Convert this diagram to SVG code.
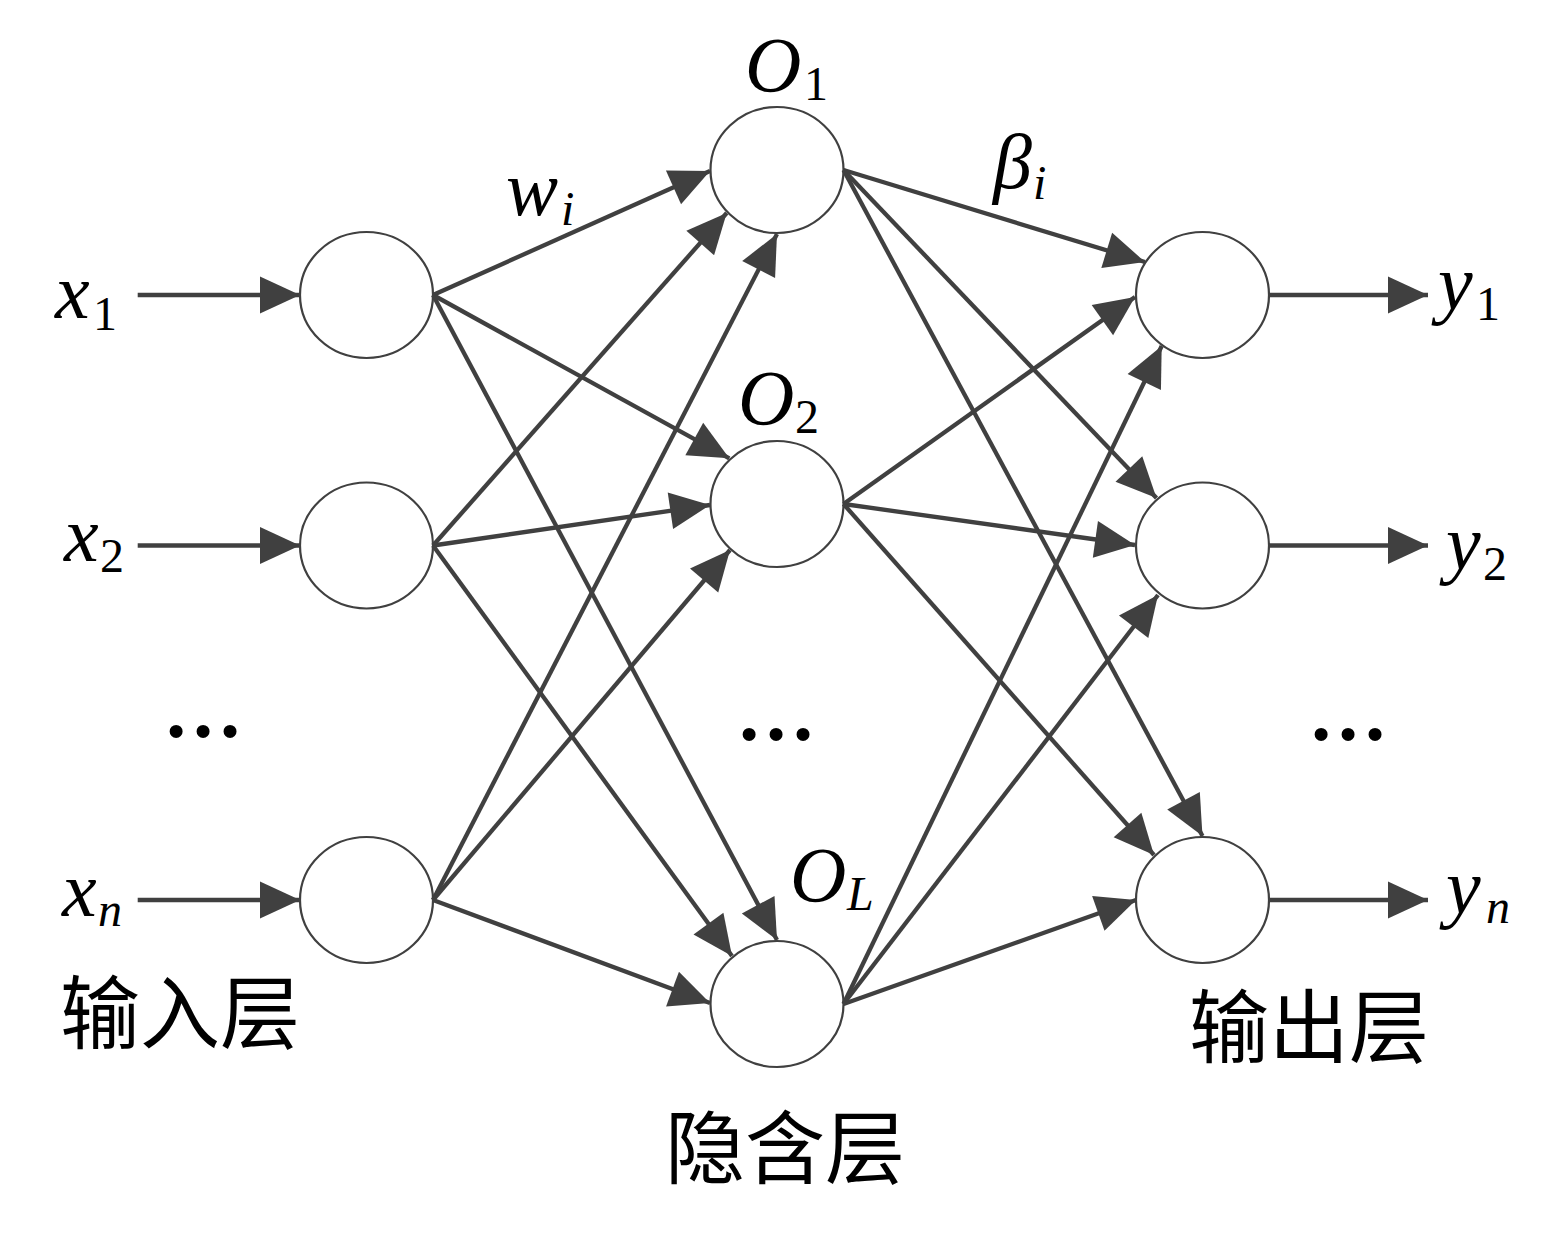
<svg xmlns="http://www.w3.org/2000/svg" width="1550" height="1235" viewBox="0 0 1550 1235">
<style>
.node{fill:#fff;stroke:#404040;stroke-width:2.2}
.edge{stroke:#404040;stroke-width:4.3;fill:none;marker-end:url(#ah)}
.m{font-family:'Liberation Serif','Times New Roman',Tinos,'DejaVu Serif',serif;font-style:italic;fill:#000;font-size:78px}
.s{font-style:normal;font-size:48px}
.si{font-style:italic;font-size:48px}
.zh{font-family:'Noto Sans CJK SC',sans-serif;font-size:80px;fill:#000}
.dots{font-family:'Liberation Serif','Times New Roman',serif;font-weight:bold;font-size:80px;fill:#000;text-anchor:middle}
</style>
<defs>
<marker id="ah" markerUnits="userSpaceOnUse" markerWidth="40" markerHeight="37" refX="40" refY="18.5" orient="auto" overflow="visible">
<path d="M0,0 L40,18.5 L0,37 Z" fill="#404040"/>
</marker>
</defs>
<rect width="1550" height="1235" fill="#fff"/>
<g id="input-layer">
<g id="in1"><ellipse class="node" cx="366.5" cy="295" rx="66.5" ry="63"/></g>
<g id="in2"><ellipse class="node" cx="366.5" cy="545.5" rx="66.5" ry="63"/></g>
<g id="in3"><ellipse class="node" cx="366.5" cy="900" rx="66.5" ry="63"/></g>
</g>
<g id="hidden-layer">
<g id="h1"><ellipse class="node" cx="777" cy="170" rx="66.5" ry="63"/></g>
<g id="h2"><ellipse class="node" cx="777" cy="504" rx="66.5" ry="63"/></g>
<g id="h3"><ellipse class="node" cx="777" cy="1004" rx="66.5" ry="63"/></g>
</g>
<g id="output-layer">
<g id="out1"><ellipse class="node" cx="1202.5" cy="295" rx="66.5" ry="63"/></g>
<g id="out2"><ellipse class="node" cx="1202.5" cy="545.5" rx="66.5" ry="63"/></g>
<g id="out3"><ellipse class="node" cx="1202.5" cy="900" rx="66.5" ry="63"/></g>
</g>
<g id="connectors">
<line class="edge" x1="137.7" y1="295" x2="300" y2="295"/>
<line class="edge" x1="137.7" y1="545.5" x2="300" y2="545.5"/>
<line class="edge" x1="137.7" y1="900" x2="300" y2="900"/>
<line class="edge" x1="433" y1="295" x2="710" y2="171"/>
<line class="edge" x1="433" y1="295" x2="729.3" y2="458.3"/>
<line class="edge" x1="433" y1="295" x2="777" y2="940"/>
<line class="edge" x1="433" y1="545.5" x2="726.7" y2="213"/>
<line class="edge" x1="433" y1="545.5" x2="710" y2="505"/>
<line class="edge" x1="433" y1="545.5" x2="732" y2="956"/>
<line class="edge" x1="433" y1="900" x2="777" y2="234"/>
<line class="edge" x1="433" y1="900" x2="730" y2="550"/>
<line class="edge" x1="433" y1="900" x2="710" y2="1003"/>
<line class="edge" x1="843.5" y1="170" x2="1145" y2="262"/>
<line class="edge" x1="843.5" y1="170" x2="1156.5" y2="498"/>
<line class="edge" x1="843.5" y1="170" x2="1202.5" y2="836"/>
<line class="edge" x1="843.5" y1="504" x2="1135" y2="297"/>
<line class="edge" x1="843.5" y1="504" x2="1135" y2="545"/>
<line class="edge" x1="843.5" y1="504" x2="1154" y2="855"/>
<line class="edge" x1="843.5" y1="1004" x2="1161.7" y2="346"/>
<line class="edge" x1="843.5" y1="1004" x2="1158" y2="595"/>
<line class="edge" x1="843.5" y1="1004" x2="1136" y2="900"/>
<line class="edge" x1="1269" y1="295" x2="1428" y2="295"/>
<line class="edge" x1="1269" y1="545.5" x2="1428" y2="545.5"/>
<line class="edge" x1="1269" y1="900" x2="1428" y2="900"/>
</g>
<g id="labels">
<text class="m" x="55" y="318">x<tspan class="s" x="93" y="329.5">1</tspan></text>
<text class="m" x="64" y="561">x<tspan class="s" x="100" y="571.7">2</tspan></text>
<text class="m" x="62" y="916">x<tspan class="si" x="98" y="926">n</tspan></text>
<text class="m" x="1438" y="309">y<tspan class="s" x="1476" y="320">1</tspan></text>
<text class="m" x="1446" y="569">y<tspan class="s" x="1483" y="580">2</tspan></text>
<text class="m" x="1446" y="913">y<tspan class="si" x="1486" y="923">n</tspan></text>
<text class="m" x="745" y="91">O<tspan class="s" x="804" y="100">1</tspan></text>
<text class="m" x="738" y="424">O<tspan class="s" x="795" y="433">2</tspan></text>
<text class="m" x="790" y="901">O<tspan class="si" x="847" y="910">L</tspan></text>
<text class="m" x="506" y="215">w<tspan class="si" x="561" y="225">i</tspan></text>
<text class="m" x="993" y="188">β<tspan class="si" x="1033" y="199">i</tspan></text>
<text class="dots" x="203" y="737">…</text>
<text class="dots" x="776" y="740">…</text>
<text class="dots" x="1348" y="740">…</text>
<text class="zh" x="60" y="1042">输入层</text>
<text class="zh" x="1189" y="1056">输出层</text>
<text class="zh" x="665" y="1177">隐含层</text>
</g>
</svg>
